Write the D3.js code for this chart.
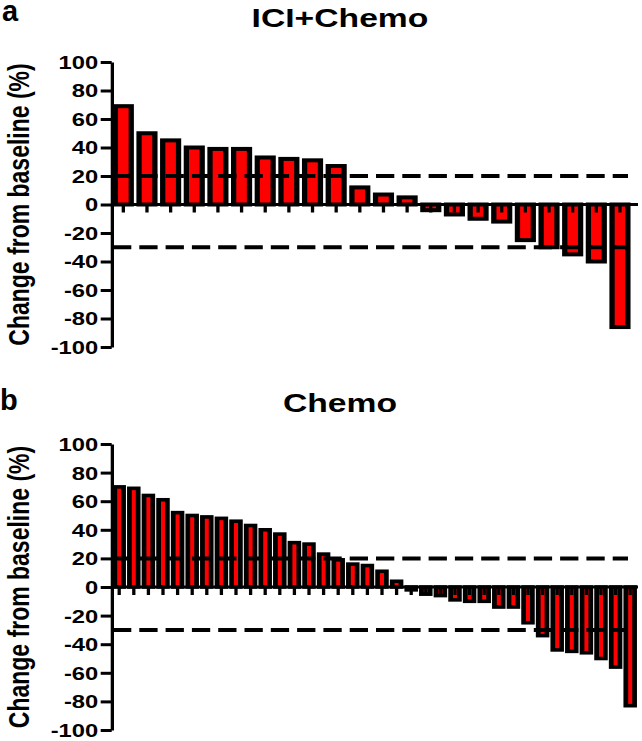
<!DOCTYPE html>
<html><head><meta charset="utf-8">
<script src="https://cdn.jsdelivr.net/npm/d3@7"></script>
<style>
body{margin:0;background:#fff}
svg{display:block}
text{font-family:Arial,"Liberation Sans",sans-serif;font-weight:bold;fill:#000}
</style>
</head><body>
<svg id="c" width="642" height="741"></svg>
<script>
// ---- data ----
const panelLetters = ["a", "b"];
const panelTitles = ["ICI+Chemo", "Chemo"];
const yAxisLabel = "Change from baseline (%)";
const yTickValues = [-100, -80, -60, -40, -20, 0, 20, 40, 60, 80, 100];
const referenceLines = [20, -30];
const iciChemoValues = [69, 50, 45, 40, 39, 39, 33, 32, 31, 27, 12, 7, 5, -4, -7, -10, -12, -25, -30, -35, -40, -86];
const chemoValues = [70, 69, 64, 61, 52, 50, 49, 48, 46, 43, 40, 37, 31, 30, 23, 19, 16, 15, 11, 4,
                     -2, -5, -6, -9, -10, -10, -14, -14, -25, -34, -44, -45, -46, -50, -56, -83];

// ---- layout (figure is horizontally stretched) ----
const K = 1.32;
const svg = d3.select("#c");

function drawPanel(values, title, letter, o) {
  // unstretched panel letter
  svg.append("text").attr("x", o.letterX).attr("y", o.letterY)
    .attr("font-size", 29).text(letter);

  const g = svg.append("g").attr("transform", `scale(${K},1)`);
  const n = values.length;
  const x = d3.scaleBand().domain(d3.range(n))
    .range([o.bandStart / K, o.bandEnd / K])
    .paddingInner(o.pad).paddingOuter(o.pad / 2);
  const y = d3.scaleLinear().domain([-100, 100]).range([o.yBottom, o.yTop]);

  // title
  g.append("text").attr("x", 340 / K).attr("y", o.titleY)
    .attr("text-anchor", "middle").attr("font-size", 25.5).text(title);

  // y label
  g.append("text")
    .attr("transform", `translate(${28.6 / K},${(o.yTop + o.yBottom) / 2}) rotate(-90)`)
    .attr("text-anchor", "middle").attr("font-size", 23).text(yAxisLabel);

  // bars
  g.append("g").selectAll("rect").data(values).join("rect")
    .attr("x", (d, i) => x(i))
    .attr("width", x.bandwidth())
    .attr("y", d => Math.min(y(d), y(0)))
    .attr("height", d => Math.abs(y(d) - y(0)))
    .attr("fill", "#ff0000").attr("stroke", "#000")
    .attr("stroke-width", o.barStroke);

  // x axis ticks (no labels)
  const xa = g.append("g").attr("transform", `translate(0,${y(0)})`)
    .call(d3.axisBottom(x).tickSize(8).tickFormat("").tickSizeOuter(0));
  xa.select(".domain").remove();
  xa.selectAll(".tick line").attr("stroke", "#000").attr("stroke-width", 2.5);

  // x axis baseline
  g.append("line").attr("x1", 111.7 / K).attr("x2", 638 / K)
    .attr("y1", y(0)).attr("y2", y(0))
    .attr("stroke", "#000").attr("stroke-width", 3);

  // reference dashed lines
  g.append("g").selectAll("line").data(referenceLines).join("line")
    .attr("x1", 113 / K).attr("x2", 628 / K)
    .attr("y1", d => y(d)).attr("y2", d => y(d))
    .attr("stroke", "#000").attr("stroke-width", 4)
    .attr("stroke-dasharray", `${18.3 / K} ${8 / K}`);

  // y axis
  const ya = g.append("g").attr("transform", `translate(${111.7 / K},0)`)
    .call(d3.axisLeft(y).tickValues(yTickValues).tickFormat(d => String(d))
      .tickSize(11 / K).tickSizeOuter(0).tickPadding(2.5 / K));
  ya.select(".domain").attr("stroke", "#000").attr("stroke-width", 2.5);
  ya.selectAll(".tick line").attr("stroke", "#000").attr("stroke-width", 3);
  ya.selectAll(".tick text").attr("font-size", 18)
    .attr("font-family", "Arial, 'Liberation Sans', sans-serif").attr("font-weight", "bold")
    .attr("fill", "#000").attr("dy", "0.36em");
}

drawPanel(iciChemoValues, panelTitles[0], panelLetters[0], {
  letterX: 2, letterY: 21, titleY: 26.7,
  yTop: 62, yBottom: 347,
  bandStart: 111.5, bandEnd: 631.8, pad: 0.33, barStroke: 4
});
drawPanel(chemoValues, panelTitles[1], panelLetters[1], {
  letterX: 0, letterY: 410, titleY: 411.7,
  yTop: 444, yBottom: 730,
  bandStart: 111.9, bandEnd: 637.5, pad: 0.4, barStroke: 3.6
});
</script>
</body></html>
